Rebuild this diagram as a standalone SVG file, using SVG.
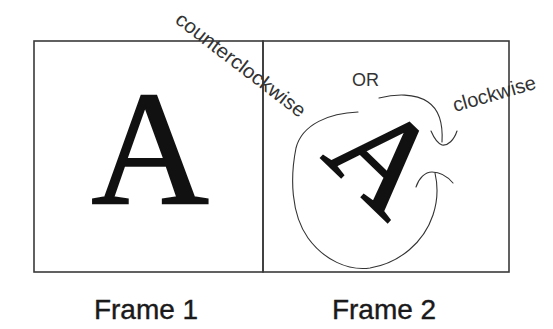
<svg xmlns="http://www.w3.org/2000/svg" width="553" height="329" viewBox="0 0 553 329">
<style>
.frame{fill:none;stroke:#3a3a3a;stroke-width:1.6}
.big{font-family:"Liberation Serif","Times New Roman",serif;fill:#111;stroke:#111;stroke-width:1.6}
.lbl{font-family:"Liberation Sans",Arial,sans-serif;fill:#1a1a1a;stroke:#1a1a1a;stroke-width:0.4}
.note{font-family:"Liberation Sans",Arial,sans-serif;fill:#333}
.curve{fill:none;stroke:#333;stroke-width:1.1;stroke-linecap:round}
</style>
<rect width="553" height="329" fill="#fff"/>
<g id="frame1">
<rect class="frame" x="34" y="41" width="229" height="231"/>
<text class="big" x="150" y="203" font-size="163" text-anchor="middle">A</text>
<text class="lbl" x="146" y="319" font-size="28" text-anchor="middle">Frame 1</text>
</g>
<g id="frame2">
<rect class="frame" x="263" y="41" width="246" height="231"/>
<text class="big" x="354" y="190" font-size="132" text-anchor="middle" transform="rotate(44 354 190)">A</text>
<text class="lbl" x="384" y="319" font-size="28" text-anchor="middle">Frame 2</text>
</g>
<g id="labels">
<text class="note" x="174" y="22" font-size="20" textLength="158" lengthAdjust="spacingAndGlyphs" transform="rotate(37.5 174 22)">counterclockwise</text>
<text class="note" x="352" y="86" font-size="18">OR</text>
<text class="note" x="455" y="112" font-size="20" transform="rotate(-16 455 112)">clockwise</text>
</g>
<g id="connectors">
<path class="curve" d="M358,112 C330,113 302,124 296,148 C290,178 291,214 308,238 C324,260 348,271 370,268 C400,263 424,242 433,215 C438,200 438,186 435,173"/>
<path class="curve" d="M416,187 C419,178 425,172 432,172 C440,172 447,176 453,183"/>
<path class="curve" d="M379,98 C395,94 415,93 428,102 C440,110 443,125 442,142"/>
<path class="curve" d="M431,131 C434,138 437,143 442,145 C448,146 454,140 457,131"/>
</g>
</svg>
